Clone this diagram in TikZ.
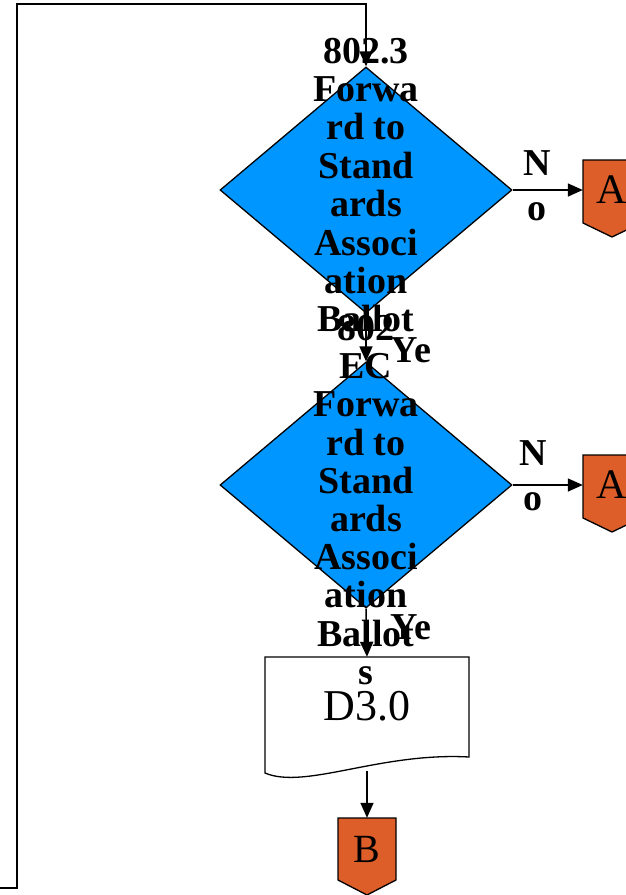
\documentclass[tikz,border=0pt]{standalone}
\usepackage{fontspec}
\setmainfont{Liberation Serif}
\usetikzlibrary{shapes.geometric,arrows.meta}
\definecolor{decblue}{RGB}{0,150,255}
\definecolor{pageorange}{RGB}{221,94,41}

\begin{document}
\begin{tikzpicture}[x=1pt, y=-1pt,
    decision/.style={diamond, draw=black, line width=1.3pt, fill=decblue,
      inner sep=0pt, minimum width=292pt, minimum height=246pt},
    flow/.style={black, line width=1.5pt, -{Triangle[length=15pt,width=13pt]}},
    bigtext/.style={font=\fontsize{38}{38.4}\selectfont\bfseries, align=center, inner sep=0pt},
    pageshape/.style={draw=black, line width=1.3pt, fill=pageorange},
    pagebox/.style={inner sep=0pt, minimum width=58pt, minimum height=60pt,
      font=\fontsize{42}{42}\selectfont}]
  \clip (0,0) rectangle (626,895);

  % decisions
  \node[decision] (dec1) at (366,190) {};
  \node[decision] (dec2) at (366,485) {};

  % document
  \draw[black, line width=1.3pt, fill=white] (265,657) -- (469,657) -- (469,757)
    .. controls (380,752) and (305,790) .. (265,773) -- cycle;
  \node[inner sep=0pt, minimum width=204pt, minimum height=98pt,
    font=\fontsize{44}{44}\selectfont] (doc) at (367,706) {D3.0};
  \coordinate (docend) at (367,771);

  \node[bigtext] (txt1) at (366,185) {802.3\\Forwa\\rd to\\Stand\\ards\\Associ\\ation\\Ballot};
  \node[bigtext, font=\fontsize{38}{38.2}\selectfont\bfseries] (txt2) at (366,500)
    {802\\EC\\Forwa\\rd to\\Stand\\ards\\Associ\\ation\\Ballot\\s};

  % off-page connectors
  \draw[pageshape] (583,160) -- (641,160) -- (641,223) -- (612,237) -- (583,223) -- cycle;
  \node[pagebox] (offA1) at (612,190) {A};
  \draw[pageshape] (583,455) -- (641,455) -- (641,518) -- (612,532) -- (583,518) -- cycle;
  \node[pagebox] (offA2) at (612,485) {A};
  \draw[pageshape] (338,818) -- (396,818) -- (396,880) -- (367,895) -- (338,880) -- cycle;
  \node[pagebox, minimum height=62pt, font=\fontsize{40}{40}\selectfont] (offB) at (367,849) {B};

  % labels
  \node[bigtext, font=\fontsize{38}{45}\selectfont\bfseries] (no1) at (537,186) {N\\o};
  \node[bigtext, font=\fontsize{38}{45}\selectfont\bfseries] (no2) at (533,476) {N\\o};
  \node[bigtext] (yes1) at (411,350) {Ye};
  \node[bigtext] (yes2) at (411,627) {Ye};

  % connectors
  \draw[flow] (dec1.east) -- (offA1.west);
  \draw[flow] (dec2.east) -- (offA2.west);
  \draw[flow] (dec1.south) -- (dec2.north);
  \draw[flow] (dec2.south) -- (doc.north);
  \draw[flow] (docend) -- (offB.north);
  \coordinate (loopstart) at (0,888);
  \draw[flow] (loopstart) -| (17,4) -| (dec1.north);
\end{tikzpicture}
\end{document}
